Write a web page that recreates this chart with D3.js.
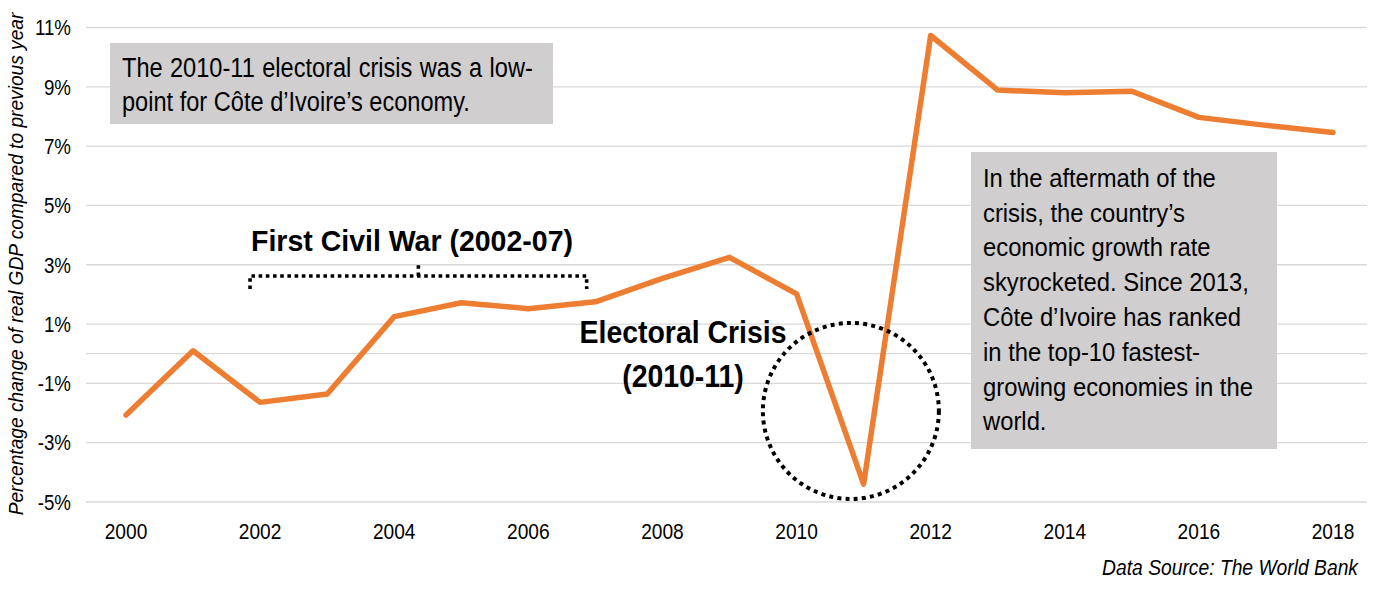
<!DOCTYPE html>
<html>
<head>
<meta charset="utf-8">
<script src="https://cdn.jsdelivr.net/npm/d3@7"></script>
<style>
  html, body { margin: 0; padding: 0; background: #fff; }
  svg { display: block; }
  text { font-family: "Liberation Sans", Arial, sans-serif; fill: #000; }
</style>
</head>
<body>
<svg id="chart" width="1379" height="601"></svg>
<script>
// ---- data ----
const years = [2000, 2001, 2002, 2003, 2004, 2005, 2006, 2007, 2008, 2009,
               2010, 2011, 2012, 2013, 2014, 2015, 2016, 2017, 2018];
const growth = [-2.07, 0.10, -1.64, -1.36, 1.25, 1.72, 1.52, 1.75, 2.54, 3.25,
                2.02, -4.40, 10.73, 8.89, 8.80, 8.85, 7.97, 7.70, 7.46];
const yTickValues = [-5, -3, -1, 1, 3, 5, 7, 9, 11];
const gridValues = [-5, -3, -1, 0, 1, 3, 5, 7, 9, 11];
const xTickValues = [2000, 2002, 2004, 2006, 2008, 2010, 2012, 2014, 2016, 2018];
const yAxisTitle = "Percentage change of real GDP compared to previous year";
const sourceNote = "Data Source: The World Bank";
const box1Lines = ["The 2010-11 electoral crisis was a low-", "point for Côte d’Ivoire’s economy."];
const box2Lines = ["In the aftermath of the", "crisis, the country’s", "economic growth rate",
                   "skyrocketed. Since 2013,", "Côte d’Ivoire has ranked", "in the top-10 fastest-",
                   "growing economies in the", "world."];
const warLabel = "First Civil War (2002-07)";
const crisisLabel = ["Electoral Crisis", "(2010-11)"];

// ---- layout ----
const svg = d3.select("#chart");
const x = d3.scaleLinear().domain([2000, 2018]).range([126, 1333]);
const y = d3.scaleLinear().domain([-5, 11]).range([502, 27.5]);
const gridLeft = 86, gridRight = 1367;
const K = 0.87; // horizontal condensing of the narrow font

// gridlines
svg.append("g").selectAll("line").data(gridValues).join("line")
  .attr("x1", gridLeft).attr("x2", gridRight)
  .attr("y1", d => y(d)).attr("y2", d => y(d))
  .attr("stroke", "#d9d9d9").attr("stroke-width", 1.3);

// helper: condensed text
function ctext(parent, tx, ty, str, opts) {
  const g = parent.append("g").attr("transform", `translate(${tx},${ty}) scale(${opts.k || K},1)`);
  const t = g.append("text").text(str)
    .attr("font-size", opts.size)
    .attr("text-anchor", opts.anchor || "start")
    .attr("font-weight", opts.weight || "normal")
    .attr("font-style", opts.style || "normal");
  if (opts.dy) t.attr("dy", opts.dy);
  return {g, t};
}
function fitK(str, size, weight, style, target) {
  const t = svg.append("text").text(str).attr("font-size", size)
    .attr("font-weight", weight || "normal").attr("font-style", style || "normal");
  const w = t.node().getComputedTextLength();
  t.remove();
  return target / w;
}

// y tick labels
const yAxisG = svg.append("g");
yTickValues.forEach(v => ctext(yAxisG, 71, y(v), v + "%", {size: 21.5, anchor: "end", dy: "0.36em"}));

// x tick labels
const xAxisG = svg.append("g");
xTickValues.forEach(v => ctext(xAxisG, x(v), 538.5, String(v), {size: 22, anchor: "middle"}));

// y axis title
{
  const k = fitK(yAxisTitle, 20.5, "normal", "italic", 503);
  const g = svg.append("g").attr("transform", `translate(22.5,264) rotate(-90) scale(${k},1)`);
  g.append("text").text(yAxisTitle).attr("font-size", 20.5).attr("font-style", "italic")
    .attr("text-anchor", "middle");
}

// source note
{
  const k = fitK(sourceNote, 21.5, "normal", "italic", 256);
  ctext(svg, 1358, 575, sourceNote, {size: 21.5, anchor: "end", style: "italic", k});
}

// line
const line = d3.line().x((d, i) => x(years[i])).y(d => y(d));
svg.append("path").datum(growth)
  .attr("d", line).attr("fill", "none")
  .attr("stroke", "#ED7D31").attr("stroke-width", 5.5)
  .attr("stroke-linejoin", "round").attr("stroke-linecap", "round");

// box 1
{
  svg.append("rect").attr("x", 110).attr("y", 43).attr("width", 443).attr("height", 81).attr("fill", "#d0cece");
  const size = 27;
  const k = fitK(box1Lines[1], size, "normal", "normal", 348);
  const natural = 1 / fitK(box1Lines[0], size, "normal", "normal", 1);
  const spaces = box1Lines[0].split(" ").length - 1;
  const extra = (411 / k - natural) / spaces;
  const l0 = ctext(svg, 122, 77, box1Lines[0], {size, k});
  l0.t.attr("word-spacing", extra);
  ctext(svg, 122, 110.5, box1Lines[1], {size, k});
}

// box 2
{
  svg.append("rect").attr("x", 971).attr("y", 152).attr("width", 306).attr("height", 297).attr("fill", "#d0cece");
  const size = 25.5;
  const k = fitK(box2Lines[0], size, "normal", "normal", 233);
  box2Lines.forEach((s, i) => ctext(svg, 983, 186.7 + i * 34.8, s, {size, k}));
}

// First Civil War label + bracket
{
  const k = fitK(warLabel, 29.5, "bold", "normal", 322);
  ctext(svg, 251, 251, warLabel, {size: 29.5, weight: "bold", k});
  const yLine = y(2.62), yLow = y(2.18), yHigh = y(3.06);
  const xl = x(2001.85), xr = x(2006.87), xm = x(2004.36);
  const path = `M${xl},${yLow}L${xl},${yLine}L${xr},${yLine}L${xr},${yLow}M${xm},${yLine}L${xm},${yHigh}`;
  svg.append("path").attr("d", path).attr("fill", "none")
    .attr("stroke", "#000").attr("stroke-width", 3.6).attr("stroke-dasharray", "3.6,3.6");
}

// Electoral crisis label + circle
{
  const k = fitK(crisisLabel[0], 31, "bold", "normal", 207);
  ctext(svg, 683, 343, crisisLabel[0], {size: 31, weight: "bold", anchor: "middle", k});
  ctext(svg, 683, 387, crisisLabel[1], {size: 31, weight: "bold", anchor: "middle", k});
  svg.append("circle").attr("cx", x(2010.81)).attr("cy", y(-1.93)).attr("r", 88)
    .attr("fill", "none").attr("stroke", "#000").attr("stroke-width", 4)
    .attr("stroke-dasharray", "4,4.2");
}
</script>
</body>
</html>
